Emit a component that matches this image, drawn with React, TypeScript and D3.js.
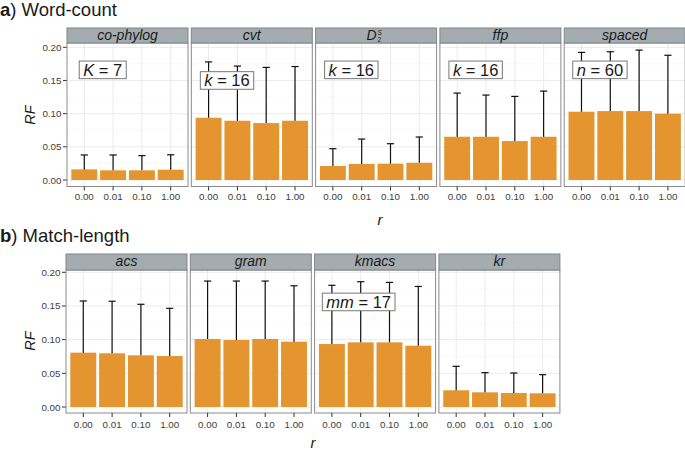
import React, { useEffect, useRef } from 'react';
import * as d3 from 'd3';

// ---------- data ----------
const rValues = ['0.00', '0.01', '0.10', '1.00'];

const wordMethods = ['co-phylog', 'cvt', 'D2S', 'ffp', 'spaced'];
const wordMean = [
  [0.016, 0.0146, 0.0146, 0.0155],
  [0.0938, 0.0893, 0.0858, 0.0893],
  [0.0211, 0.0241, 0.0246, 0.026],
  [0.0652, 0.0652, 0.0587, 0.0652],
  [0.1029, 0.1039, 0.1039, 0.0999],
];
const wordUpper = [
  [0.0377, 0.0377, 0.0367, 0.038],
  [0.178, 0.1717, 0.1697, 0.171],
  [0.0472, 0.0617, 0.0547, 0.0648],
  [0.131, 0.128, 0.126, 0.134],
  [0.1923, 0.1933, 0.1958, 0.188],
];
// parameter labels: [symbol, value, category position (0-based), RF position]
const wordLabels = [
  ['K', '7', 0.64, 0.166],
  ['k', '16', 0.64, 0.15],
  ['k', '16', 0.64, 0.166],
  ['k', '16', 0.64, 0.166],
  ['n', '60', 0.64, 0.166],
];

const matchMethods = ['acs', 'gram', 'kmacs', 'kr'];
const matchMean = [
  [0.0807, 0.0797, 0.0767, 0.0757],
  [0.101, 0.0995, 0.101, 0.097],
  [0.0935, 0.096, 0.096, 0.091],
  [0.0248, 0.0218, 0.0208, 0.0203],
];
const matchUpper = [
  [0.1574, 0.157, 0.1525, 0.1465],
  [0.187, 0.187, 0.187, 0.18],
  [0.1807, 0.186, 0.185, 0.179],
  [0.0604, 0.051, 0.0505, 0.048],
];
const matchLabels = [null, null, ['mm', '17', 0.93, 0.156], null];

const yTicks = [0, 0.05, 0.1, 0.15, 0.2];
const yMinor = [0.025, 0.075, 0.125, 0.175];

// ---------- style ----------
const FONT = '"Liberation Sans", Arial, Helvetica, sans-serif';
const BAR = '#e4952f';
const STRIP_FILL = '#a4acb0';
const STRIP_STROKE = '#80868a';
const BORDER = '#8a8a8a';
const GRID = '#ebebeb';
const GRID_MINOR = '#f6f6f6';
const TXT = '#404040';

const PANEL_W = 121;
const GAP = 3.3;

const rows = [
  {
    title: 'Word-count', tag: 'a', titleY: 16,
    methods: wordMethods, mean: wordMean, upper: wordUpper, labels: wordLabels,
    x0: 67, stripTop: 28, panelTop: 43, panelBottom: 186.5,
    y0: 180, y20: 47.3, stripBase: 40, tickLabelY: 199.5, rY: 225, rX: 380, rfY: 115,
  },
  {
    title: 'Match-length', tag: 'b', titleY: 241.5,
    methods: matchMethods, mean: matchMean, upper: matchUpper, labels: matchLabels,
    x0: 66, stripTop: 254, panelTop: 270, panelBottom: 413,
    y0: 407, y20: 272.3, stripBase: 266, tickLabelY: 428, rY: 448, rX: 313, rfY: 341,
  },
];

export default function App() {
  const ref = useRef<SVGSVGElement>(null);

  useEffect(() => {
    const svg = d3.select(ref.current);
    svg.selectAll('*').remove();

    rows.forEach((row) => {
      const n = row.methods.length;
      const panelScale = d3
        .scaleBand<string>()
        .domain(row.methods)
        .range([row.x0, row.x0 + n * (PANEL_W + GAP) - GAP])
        .paddingInner(GAP / (PANEL_W + GAP))
        .paddingOuter(0);
      const y = d3.scaleLinear().domain([0, 0.2]).range([row.y0, row.y20]);

      // title
      const t = svg
        .append('text')
        .attr('x', 0)
        .attr('y', row.titleY)
        .attr('font-family', FONT)
        .attr('font-size', 18.5)
        .attr('fill', '#1a1a1a');
      t.append('tspan').attr('font-weight', 'bold').text(row.tag);
      t.append('tspan').text(') ' + row.title);

      // RF label
      svg
        .append('text')
        .attr('transform', `translate(34.5,${row.rfY}) rotate(-90)`)
        .attr('text-anchor', 'middle')
        .attr('font-family', FONT)
        .attr('font-size', 14.5)
        .attr('font-style', 'italic')
        .attr('fill', '#1a1a1a')
        .text('RF');

      // r label
      svg
        .append('text')
        .attr('x', row.rX)
        .attr('y', row.rY)
        .attr('text-anchor', 'middle')
        .attr('font-family', FONT)
        .attr('font-size', 15)
        .attr('font-style', 'italic')
        .attr('fill', '#1a1a1a')
        .text('r');

      // y axis
      const firstX = panelScale(row.methods[0])!;
      yTicks.forEach((v) => {
        svg
          .append('line')
          .attr('x1', firstX - 4)
          .attr('x2', firstX)
          .attr('y1', y(v))
          .attr('y2', y(v))
          .attr('stroke', '#333')
          .attr('stroke-width', 1);
        svg
          .append('text')
          .attr('x', firstX - 5.5)
          .attr('y', y(v) + 3.5)
          .attr('text-anchor', 'end')
          .attr('font-family', FONT)
          .attr('font-size', 9.8)
          .attr('fill', TXT)
          .text(d3.format('.2f')(v));
      });

      row.methods.forEach((m, i) => {
        const px = panelScale(m)!;
        const pw = panelScale.bandwidth();
        const x = d3
          .scaleBand<string>()
          .domain(rValues)
          .range([px, px + pw])
          .paddingInner(0.1)
          .paddingOuter(0.15);
        const cx = (r: string) => x(r)! + x.bandwidth() / 2;
        const g = svg.append('g');

        g.append('rect')
          .attr('x', px)
          .attr('y', row.panelTop)
          .attr('width', pw)
          .attr('height', row.panelBottom - row.panelTop)
          .attr('fill', '#fff');

        yMinor.forEach((v) => {
          g.append('line')
            .attr('x1', px).attr('x2', px + pw)
            .attr('y1', y(v)).attr('y2', y(v))
            .attr('stroke', GRID_MINOR).attr('stroke-width', 0.6);
        });
        yTicks.forEach((v) => {
          g.append('line')
            .attr('x1', px).attr('x2', px + pw)
            .attr('y1', y(v)).attr('y2', y(v))
            .attr('stroke', GRID).attr('stroke-width', 1);
        });
        rValues.forEach((r) => {
          g.append('line')
            .attr('x1', cx(r)).attr('x2', cx(r))
            .attr('y1', row.panelTop).attr('y2', row.panelBottom)
            .attr('stroke', GRID).attr('stroke-width', 1);
        });

        // bars
        rValues.forEach((r, j) => {
          const v = row.mean[i][j];
          g.append('rect')
            .attr('x', x(r)!)
            .attr('y', y(v))
            .attr('width', x.bandwidth())
            .attr('height', y(0) - y(v))
            .attr('fill', BAR);
        });
        // error bars
        rValues.forEach((r, j) => {
          const v = row.mean[i][j];
          const u = row.upper[i][j];
          g.append('line')
            .attr('x1', cx(r)).attr('x2', cx(r))
            .attr('y1', y(v)).attr('y2', y(u))
            .attr('stroke', '#111').attr('stroke-width', 1.2);
          g.append('line')
            .attr('x1', cx(r) - 3.6).attr('x2', cx(r) + 3.6)
            .attr('y1', y(u)).attr('y2', y(u))
            .attr('stroke', '#111').attr('stroke-width', 1.2);
        });

        // label
        const lab = row.labels[i] as any;
        if (lab) {
          const step = x.step();
          const lx = cx(rValues[0]) + (lab[2] as number) * step;
          const ly = y(lab[3] as number);
          const lg = g.append('g');
          const rect = lg.append('rect');
          const txt = lg
            .append('text')
            .attr('x', lx)
            .attr('y', ly + 5.8)
            .attr('text-anchor', 'middle')
            .attr('font-family', FONT)
            .attr('font-size', 16.5)
            .attr('fill', '#1a1a1a');
          txt.append('tspan').attr('font-style', 'italic').text(lab[0]);
          txt.append('tspan').text(' = ' + lab[1]);
          const bb = (txt.node() as SVGTextElement).getBBox();
          rect
            .attr('x', bb.x - 4)
            .attr('y', ly - 8.8)
            .attr('width', bb.width + 8)
            .attr('height', 17.6)
            .attr('fill', '#fff')
            .attr('stroke', '#777')
            .attr('stroke-width', 1);
        }

        // panel border
        g.append('rect')
          .attr('x', px)
          .attr('y', row.panelTop)
          .attr('width', pw)
          .attr('height', row.panelBottom - row.panelTop)
          .attr('fill', 'none')
          .attr('stroke', BORDER)
          .attr('stroke-width', 1);

        // strip
        g.append('rect')
          .attr('x', px)
          .attr('y', row.stripTop)
          .attr('width', pw)
          .attr('height', row.panelTop - row.stripTop)
          .attr('fill', STRIP_FILL)
          .attr('stroke', STRIP_STROKE)
          .attr('stroke-width', 1);
        const scx = px + pw / 2;
        if (m === 'D2S') {
          const dt = g
            .append('text')
            .attr('x', scx + 0.5)
            .attr('y', row.stripBase)
            .attr('text-anchor', 'end')
            .attr('font-family', FONT)
            .attr('font-size', 14)
            .attr('font-style', 'italic')
            .attr('fill', '#1a1a1a');
          dt.append('tspan').text('D');
          dt.append('tspan')
            .attr('x', scx + 1.5)
            .attr('dy', -5.5)
            .attr('text-anchor', 'start')
            .attr('font-size', 6.5)
            .text('S');
          dt.append('tspan')
            .attr('x', scx + 1.5)
            .attr('dy', 7)
            .attr('text-anchor', 'start')
            .attr('font-size', 6.5)
            .attr('font-style', 'normal')
            .text('2');
        } else {
          g.append('text')
            .attr('x', scx)
            .attr('y', row.stripBase)
            .attr('text-anchor', 'middle')
            .attr('font-family', FONT)
            .attr('font-size', 14)
            .attr('font-style', 'italic')
            .attr('fill', '#1a1a1a')
            .text(m);
        }

        // x ticks
        rValues.forEach((r) => {
          g.append('line')
            .attr('x1', cx(r)).attr('x2', cx(r))
            .attr('y1', row.panelBottom).attr('y2', row.panelBottom + 4)
            .attr('stroke', '#333').attr('stroke-width', 1);
          g.append('text')
            .attr('x', cx(r))
            .attr('y', row.tickLabelY)
            .attr('text-anchor', 'middle')
            .attr('font-family', FONT)
            .attr('font-size', 9.8)
            .attr('fill', TXT)
            .text(r);
        });
      });
    });
  }, []);

  return (
    <svg
      ref={ref}
      width={685}
      height={450}
      style={{ position: 'absolute', left: 0, top: 0, background: '#fff' }}
    />
  );
}
